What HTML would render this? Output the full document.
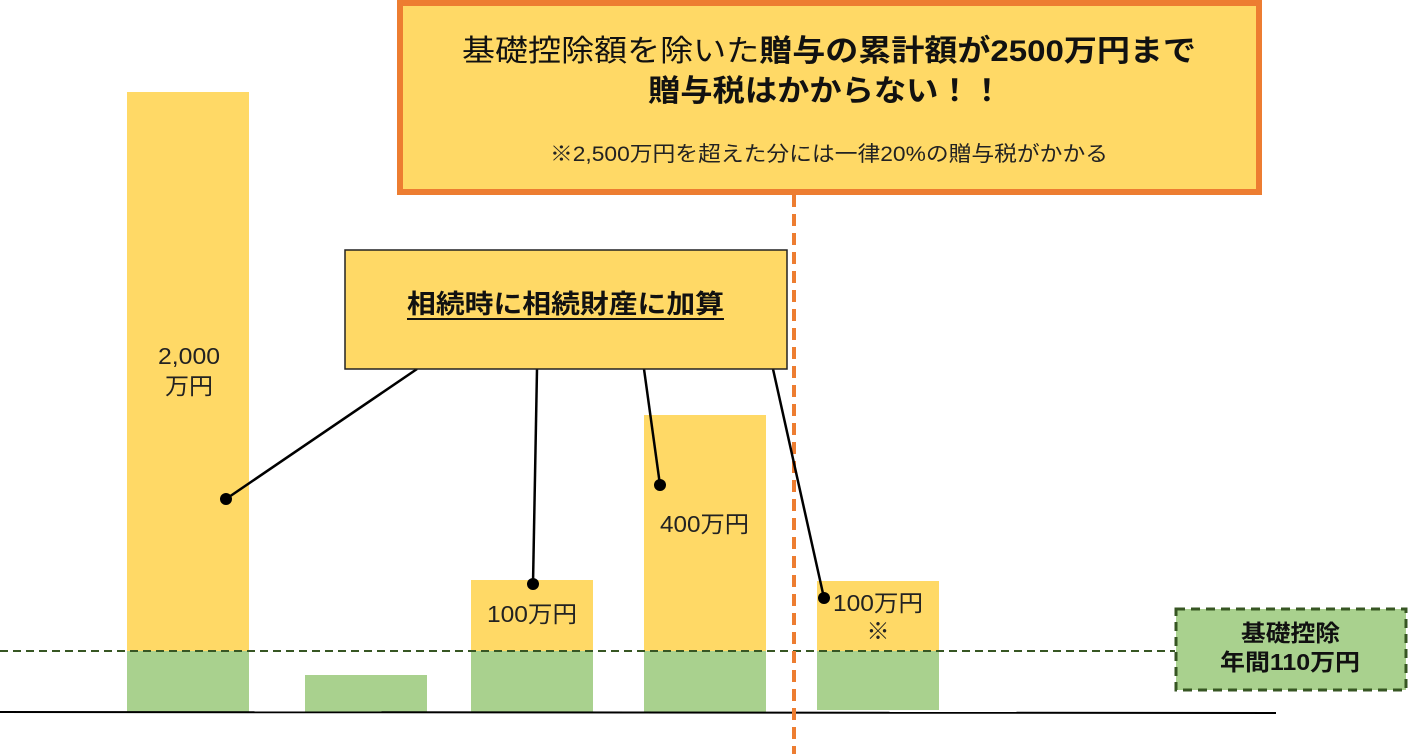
<!DOCTYPE html>
<html><head><meta charset="utf-8"><style>
html,body{margin:0;padding:0;background:#fff;}
svg{display:block;font-family:"Liberation Sans","Noto Sans CJK JP",sans-serif;}
</style></head><body>
<svg width="1408" height="754" viewBox="0 0 1408 754" xmlns="http://www.w3.org/2000/svg">
<rect width="1408" height="754" fill="#fff"/>
<rect x="127" y="92" width="122" height="559" fill="#FFD966"/>
<rect x="127" y="651" width="122" height="61" fill="#A9D18E"/>
<rect x="305" y="675" width="122" height="37" fill="#A9D18E"/>
<rect x="471" y="580" width="122" height="71" fill="#FFD966"/>
<rect x="471" y="651" width="122" height="61" fill="#A9D18E"/>
<rect x="644" y="415" width="122" height="236" fill="#FFD966"/>
<rect x="644" y="651" width="122" height="61" fill="#A9D18E"/>
<rect x="817" y="581" width="122" height="70" fill="#FFD966"/>
<rect x="817" y="651" width="122" height="59" fill="#A9D18E"/>
<line x1="0" y1="651" x2="1175" y2="651" stroke="#375623" stroke-width="2" stroke-dasharray="8,5"/>
<line x1="0" y1="712" x2="1276" y2="713" stroke="#000" stroke-width="2"/>
<line x1="794" y1="195" x2="794" y2="754" stroke="#ED7D31" stroke-width="4" stroke-dasharray="12,7"/>
<g font-size="23" fill="#222">
<text x="158" y="364" textLength="62" lengthAdjust="spacingAndGlyphs">2,000</text>
<text x="165" y="394" textLength="48" lengthAdjust="spacingAndGlyphs">万円</text>
<text x="487" y="622" textLength="90" lengthAdjust="spacingAndGlyphs">100万円</text>
<text x="660" y="532" textLength="89" lengthAdjust="spacingAndGlyphs">400万円</text>
<text x="833" y="611" textLength="90" lengthAdjust="spacingAndGlyphs">100万円</text>
<text x="878" y="639" text-anchor="middle">※</text>
</g>
<g stroke="#000" stroke-width="2.5">
<line x1="417" y1="369" x2="226" y2="499"/>
<line x1="537" y1="369" x2="533" y2="584"/>
<line x1="644" y1="369" x2="660" y2="485"/>
<line x1="773" y1="369" x2="824" y2="598"/>
</g>
<g fill="#000">
<circle cx="226" cy="499" r="6"/>
<circle cx="533" cy="584" r="6"/>
<circle cx="660" cy="485" r="6"/>
<circle cx="824" cy="598" r="6"/>
</g>
<rect x="345" y="250" width="442" height="119" fill="#FFD966" stroke="#222" stroke-width="1.5"/>
<text x="407" y="313" font-size="26" font-weight="bold" fill="#111" textLength="317" lengthAdjust="spacingAndGlyphs">相続時に相続財産に加算</text>
<line x1="407" y1="319" x2="724" y2="319" stroke="#111" stroke-width="2"/>
<rect x="400" y="3" width="859" height="189" fill="#FFD966" stroke="#ED7D31" stroke-width="6"/>
<text x="462" y="61" font-size="30" fill="#111" textLength="734" lengthAdjust="spacingAndGlyphs">基礎控除額を除いた<tspan font-weight="bold">贈与の累計額が2500万円まで</tspan></text>
<text x="648" y="101" font-size="30" font-weight="bold" fill="#111" textLength="355" lengthAdjust="spacingAndGlyphs">贈与税はかからない！！</text>
<text x="550" y="161" font-size="21" fill="#222" textLength="558" lengthAdjust="spacingAndGlyphs">※2,500万円を超えた分には一律20%の贈与税がかかる</text>
<rect x="1176" y="609" width="230" height="81" fill="#A9D18E" stroke="#375623" stroke-width="3" stroke-dasharray="9,6"/>
<g font-size="23" font-weight="bold" fill="#111">
<text x="1241" y="641" textLength="99" lengthAdjust="spacingAndGlyphs">基礎控除</text>
<text x="1220" y="670" textLength="140" lengthAdjust="spacingAndGlyphs">年間110万円</text>
</g>
</svg>
</body></html>
